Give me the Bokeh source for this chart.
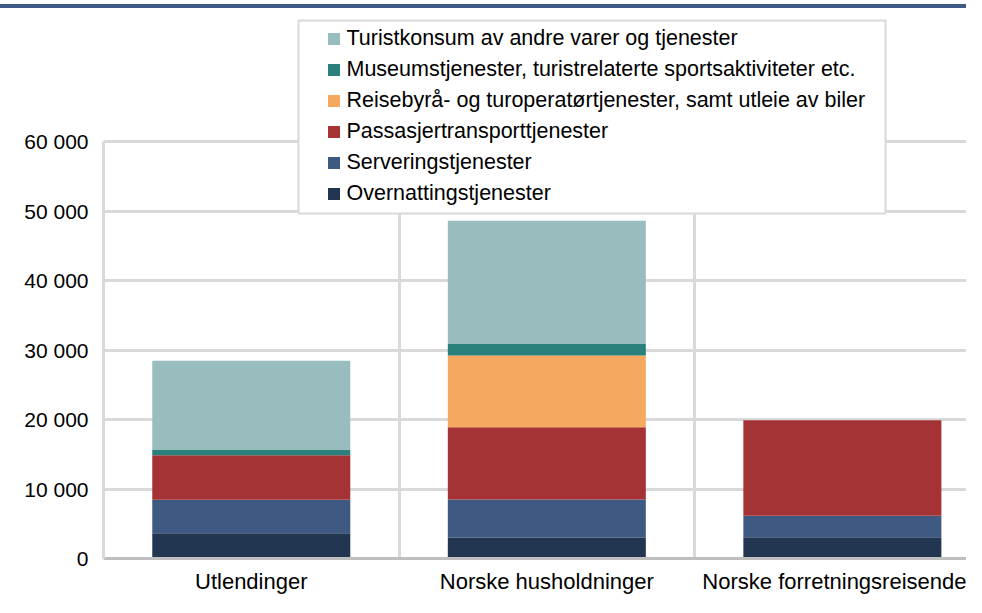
from bokeh.plotting import figure
from bokeh.layouts import column
from bokeh.models import (Range1d, FixedTicker, Legend, LegendItem, BoxAnnotation,
                          ColumnDataSource, Div)
from bokeh.embed import file_html
from bokeh.resources import INLINE

# ---------------- data ----------------
categories = ["Utlendinger", "Norske husholdninger", "Norske forretningsreisende"]
series_names = [
    "Overnattingstjenester",
    "Serveringstjenester",
    "Passasjertransporttjenester",
    "Reisebyrå- og turoperatørtjenester, samt utleie av biler",
    "Museumstjenester, turistrelaterte sportsaktiviteter etc.",
    "Turistkonsum av andre varer og tjenester",
]
overnatting = [3650, 3000, 3050]
servering = [4800, 5500, 3100]
passasjer = [6400, 10400, 13750]
reisebyra = [0, 10300, 0]
museum = [850, 1750, 0]
turist = [12750, 17650, 0]
y_ticks = [0, 10000, 20000, 30000, 40000, 50000, 60000]

colors = ["#233651", "#3e5a82", "#a53335", "#f5a95e", "#2b7f7c", "#99bdbe"]
FONT = "Liberation Sans"
GRID = "#d9d9d9"

x = list(range(len(categories)))
keys = ["s0", "s1", "s2", "s3", "s4", "s5"]
source = ColumnDataSource(dict(x=x, s0=overnatting, s1=servering, s2=passasjer,
                               s3=reisebyra, s4=museum, s5=turist))

# figure starts 8px below the page top (after the top rule)
p = figure(frame_width=863, frame_height=550,
           min_border_left=103, min_border_right=0, min_border_top=0, min_border_bottom=5,
           x_range=Range1d(-0.5, len(categories) - 0.58),
           y_range=Range1d(0, 79137),
           output_backend="svg", toolbar_location=None)
p.outline_line_color = None
p.background_fill_color = "white"
p.border_fill_color = "white"

renderers = p.vbar_stack(keys, x="x", width=0.67, source=source,
                         fill_color=colors, line_color=None)

# axes
p.xaxis.ticker = FixedTicker(ticks=x)
p.xaxis.major_label_overrides = {i: c for i, c in enumerate(categories)}
p.xaxis.axis_line_color = "#bfbfbf"
p.xaxis.axis_line_width = 3
p.xaxis.major_tick_line_color = None
p.xaxis.minor_tick_line_color = None
p.xaxis.major_label_standoff = 4
p.xaxis.major_label_text_font = FONT
p.xaxis.major_label_text_font_size = "22px"
p.xaxis.major_label_text_color = "black"

p.yaxis.ticker = FixedTicker(ticks=y_ticks)
p.yaxis.major_label_overrides = {t: f"{t:,}".replace(",", " ") for t in y_ticks}
p.yaxis.axis_line_color = GRID
p.yaxis.axis_line_width = 3
p.yaxis.bounds = (y_ticks[0], y_ticks[-1])
p.yaxis.major_tick_line_color = None
p.yaxis.minor_tick_line_color = None
p.yaxis.major_label_standoff = 9
p.yaxis.major_label_text_font = FONT
p.yaxis.major_label_text_font_size = "21px"
p.yaxis.major_label_text_color = "black"

# grids
p.ygrid.ticker = FixedTicker(ticks=y_ticks[1:])
p.ygrid.grid_line_color = GRID
p.ygrid.grid_line_width = 3
p.xgrid.ticker = FixedTicker(ticks=[i + 0.5 for i in x[:-1]])
p.xgrid.grid_line_color = GRID
p.xgrid.grid_line_width = 3
p.xgrid.cross_bounds = (y_ticks[0], y_ticks[-1])

# legend frame
legend_box = BoxAnnotation(left=298, right=885, top=12, bottom=205,
                           left_units="canvas", right_units="canvas",
                           top_units="canvas", bottom_units="canvas",
                           fill_color="white", fill_alpha=1,
                           line_color=GRID, line_width=2, line_alpha=1)
p.add_layout(legend_box)

items = [LegendItem(label=n, renderers=[r]) for n, r in zip(series_names, renderers)][::-1]
legend = Legend(items=items, location=(222.5, 549.5 - 14.5 - 186), orientation="vertical",
                glyph_width=15, glyph_height=15, label_height=31, spacing=0,
                padding=0, margin=0, label_standoff=6,
                label_text_font=FONT, label_text_font_size="21.5px",
                label_text_color="black",
                border_line_alpha=0, background_fill_alpha=0)
p.add_layout(legend)

# top rule
top_rule = Div(text="", width=966, height=4, margin=(4, 0, 0, 0),
               styles={"background-color": "#3d5a88"})

layout = column(top_rule, p, spacing=0)
open("out.html", "w").write(file_html(layout, INLINE))
